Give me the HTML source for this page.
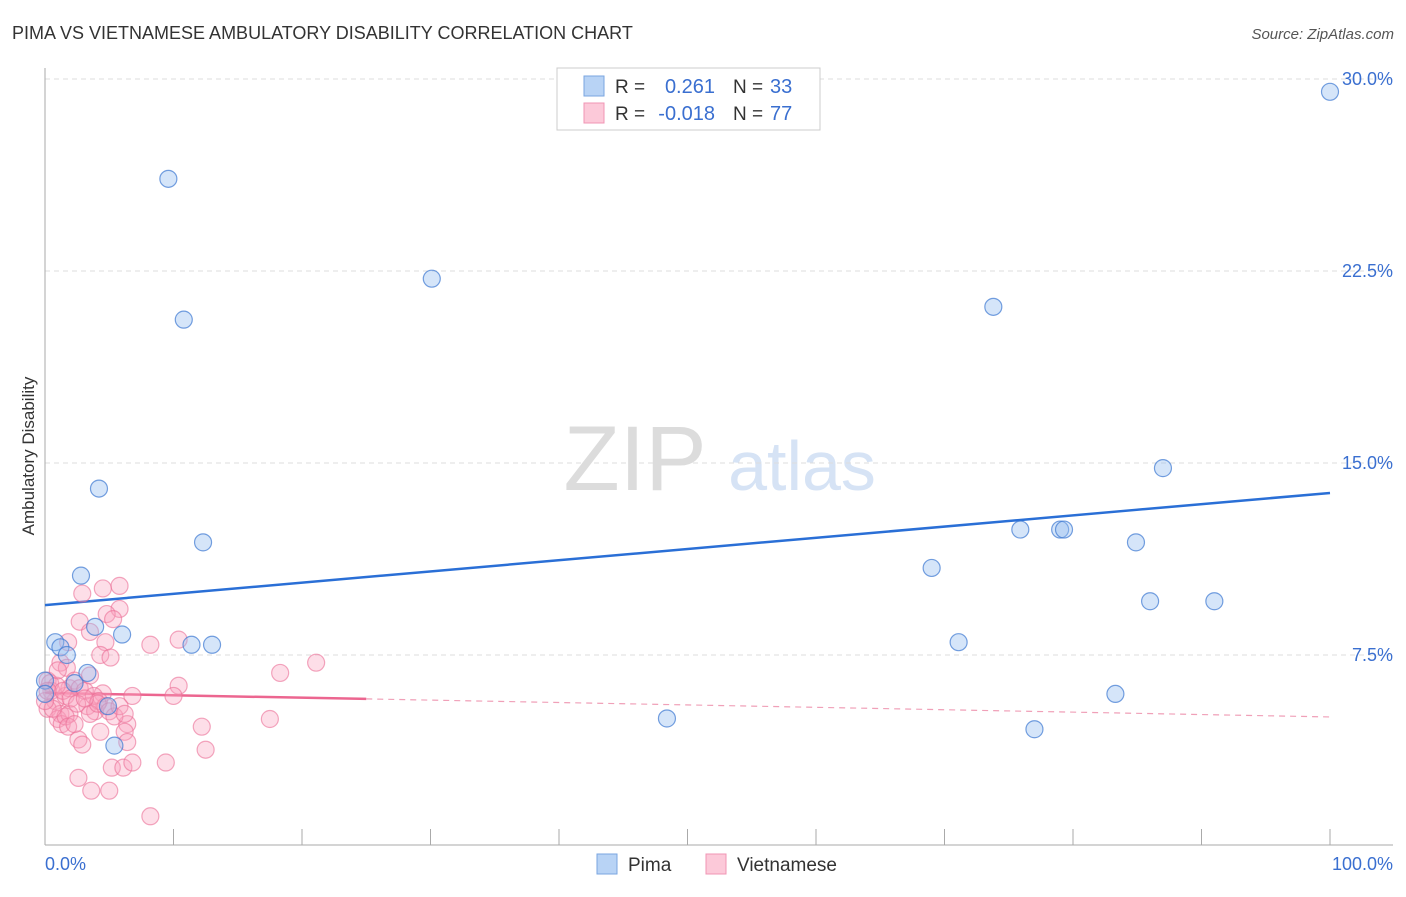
<!DOCTYPE html>
<html><head><meta charset="utf-8"><style>
body{margin:0;background:#fff;font-family:"Liberation Sans",sans-serif;}
svg text{font-family:"Liberation Sans",sans-serif;}
</style></head><body>
<svg id="chart" width="1406" height="892" xmlns="http://www.w3.org/2000/svg">
<text x="12" y="39" font-size="18" fill="#333">PIMA VS VIETNAMESE AMBULATORY DISABILITY CORRELATION CHART</text>
<text x="1394" y="39" font-size="15" fill="#555" text-anchor="end" font-style="italic">Source: ZipAtlas.com</text>
<g>
<text x="635" y="490" font-size="92" fill="#dcdcdc" text-anchor="middle" font-family="Liberation Serif">ZIP</text>
<text x="802" y="490" font-size="70" fill="#d6e3f5" text-anchor="middle">atlas</text>
</g>
<g id="grid"></g>
<g id="axes"></g>
<text transform="translate(34,456) rotate(-90)" font-size="17" fill="#333" text-anchor="middle">Ambulatory Disability</text>
<g id="trend"></g>
<g id="points"></g>
<g>
<rect x="557" y="68" width="263" height="62" fill="#fff" stroke="#ccc"/>
<rect x="584" y="76" width="20" height="20" fill="#b8d3f5" stroke="#7aa6e0"/>
<rect x="584" y="103" width="20" height="20" fill="#fcc9d9" stroke="#f095b4"/>
<text x="615" y="93" font-size="19" fill="#333">R =</text>
<text x="715" y="93" font-size="20" fill="#3a6fd0" text-anchor="end">0.261</text>
<text x="733" y="93" font-size="19" fill="#333">N =</text>
<text x="770" y="93" font-size="20" fill="#3a6fd0">33</text>
<text x="615" y="120" font-size="19" fill="#333">R =</text>
<text x="715" y="120" font-size="20" fill="#3a6fd0" text-anchor="end">-0.018</text>
<text x="733" y="120" font-size="19" fill="#333">N =</text>
<text x="770" y="120" font-size="20" fill="#3a6fd0">77</text>
</g>
<g>
<rect x="597" y="854" width="20" height="20" fill="#b8d3f5" stroke="#7aa6e0"/>
<text x="628" y="871" font-size="19" fill="#333">Pima</text>
<rect x="706" y="854" width="20" height="20" fill="#fcc9d9" stroke="#f095b4"/>
<text x="737" y="871" font-size="19" fill="#333">Vietnamese</text>
</g>
</svg>
<script>
const yTicks=[7.5,15,22.5,30];
const yTickLabels=["7.5%","15.0%","22.5%","30.0%"];
const xTickLabels=["0.0%","100.0%"];
const pimaX=[100,9.6,10.8,30.1,73.8,87,4.2,12.3,75.9,79,79.3,84.9,69,2.8,86,91,3.9,6,71.1,11.4,13,0.8,1.2,1.7,3.3,2.3,0,83.3,4.9,48.4,77,5.4,0];
const pimaY=[29.5,26.1,20.6,22.2,21.1,14.8,14,11.9,12.4,12.4,12.4,11.9,10.9,10.6,9.6,9.6,8.6,8.3,8,7.9,7.9,8,7.8,7.5,6.8,6.4,6.5,5.98,5.5,5.02,4.6,3.96,5.98];
const vietX=[2.9,4.5,5.8,5.8,2.7,4.8,5.3,3.5,4.7,1.8,4.3,5.1,8.2,10.4,1.2,1.7,18.3,21.1,10.4,10,4.5,6.8,17.5,12.2,12.5,6.4,6.2,6.4,2.6,2.9,4.3,5.2,6.1,6.8,9.4,2.6,3.6,5,8.2,
0.2,0.5,0.8,0.2,1.2,1.6,1.9,2.3,2.7,1,1.3,3.1,3.3,3.9,3.8,4.2,4.7,1.9,0.4,0.9,1.4,2,2.5,3.5,4.1,5,5.4,5.8,6.2,1.6,0.6,0,0.2,3.1,1.8,2.3,1,3.5];
const vietY=[9.9,10.1,10.2,9.3,8.8,9.1,8.9,8.4,8,8,7.5,7.4,7.9,8.1,7.2,7,6.8,7.2,6.3,5.9,6.0,5.9,5.0,4.7,3.8,4.8,4.5,4.1,4.2,4.0,4.5,3.1,3.1,3.3,3.3,2.7,2.2,2.2,1.2,
6.5,6.1,5.7,5.4,5.2,5.9,6.2,6.5,6.2,5,4.8,6.1,5.5,5.3,5.9,5.7,5.5,5.2,6.4,6.3,6.1,5.8,5.6,5.2,5.6,5.3,5.1,5.5,5.2,5.1,5.4,5.7,6.1,5.8,4.7,4.8,6.9,6.7];
const pimaTrend=[9.45,13.83];
const vietTrend=[6.02,5.08];
const vietSolidEnd=25;
const X=v=>45+v*12.85, Y=v=>847-v*25.6;
const NS="http://www.w3.org/2000/svg";
function mk(tag,attrs,parent){const e=document.createElementNS(NS,tag);for(const k in attrs)e.setAttribute(k,attrs[k]);parent.appendChild(e);return e;}
const grid=document.getElementById('grid'),axes=document.getElementById('axes'),pts=document.getElementById('points'),tr=document.getElementById('trend');
yTicks.forEach((t,i)=>{
 const l=mk('line',{x1:45,x2:1393,y1:Y(t),y2:Y(t),stroke:'#ddd','stroke-dasharray':'5,4'},grid);
 
 
 const tx=mk('text',{x:1393,y:Y(t)+6,'font-size':18,fill:'#3a6fd0','text-anchor':'end'},axes);
 tx.textContent=yTickLabels[i];
 
 
});
const ya=mk('line',{x1:45,x2:45,y1:68,y2:845,stroke:'#aaa'},axes);


const xa=mk('line',{x1:45,x2:1393,y1:845,y2:845,stroke:'#aaa'},axes);


for(let i=0;i<=10;i++){
 const t=mk('line',{x1:X(i*10),x2:X(i*10),y1:829,y2:845,stroke:'#aaa'},axes);
 
 
}
const xl0=mk('text',{x:45,y:870,'font-size':18,fill:'#3a6fd0'},axes);
xl0.textContent=xTickLabels[0];


const xl1=mk('text',{x:1393,y:870,'font-size':18,fill:'#3a6fd0','text-anchor':'end'},axes);
xl1.textContent=xTickLabels[1];


vietX.forEach((v,i)=>{
 const c=mk('circle',{cx:X(v),cy:Y(vietY[i]),r:8.5,fill:'rgba(248,160,190,0.35)',stroke:'rgba(235,110,150,0.6)','stroke-width':1.2},pts);
 
 
});
pimaX.forEach((v,i)=>{
 const c=mk('circle',{cx:X(v),cy:Y(pimaY[i]),r:8.5,fill:'rgba(150,190,240,0.4)',stroke:'rgba(60,120,210,0.7)','stroke-width':1.2},pts);
 
 
});
const pl=mk('line',{x1:X(0),y1:Y(pimaTrend[0]),x2:X(100),y2:Y(pimaTrend[1]),stroke:'#2a6fd6','stroke-width':2.5},tr);


const vm=vietTrend[0]+(vietTrend[1]-vietTrend[0])*vietSolidEnd/100;
const vl=mk('line',{x1:X(0),y1:Y(vietTrend[0]),x2:X(vietSolidEnd),y2:Y(vm),stroke:'#ec6690','stroke-width':2.5},tr);


const vd=mk('line',{x1:X(vietSolidEnd),y1:Y(vm),x2:X(100),y2:Y(vietTrend[1]),stroke:'#f0a0b8','stroke-width':1.2,'stroke-dasharray':'6,5'},tr);


</script>
</body></html>
